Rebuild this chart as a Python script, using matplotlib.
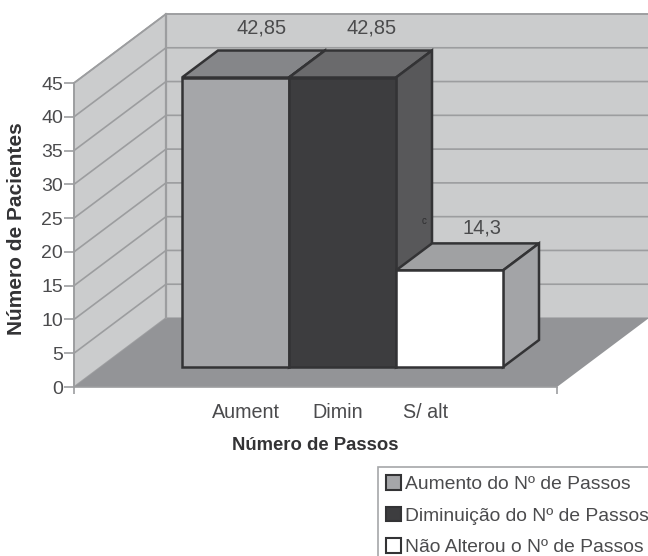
import matplotlib
matplotlib.use("Agg")
import matplotlib.pyplot as plt
from matplotlib.patches import Patch
from matplotlib.transforms import Affine2D

plt.rcParams['font.family'] = ['Liberation Sans', 'DejaVu Sans']

# Data
series_labels = ["Aumento do Nº de Passos", "Diminuição do Nº de Passos", "Não Alterou o Nº de Passos"]
short_labels = ["Aument", "Dimin", "S/ alt"]
value_labels = ["42,85", "42,85", "14,3"]
values = [42.85, 42.85, 14.3]
y_ticks = [0, 5, 10, 15, 20, 25, 30, 35, 40, 45]

# Styling
W, H = 648, 556
front_colors = ["#a5a6a9", "#3d3d3f", "#ffffff"]
top_colors = ["#858689", "#6a6a6c", "#a0a1a3"]
side_colors = ["#8a8b8e", "#58585a", "#a3a4a7"]
wall_color = "#cbcccd"
floor_color = "#939497"
grid_color = "#9c9d9f"
text_color = "#4b4b4d"
title_color = "#333335"
edge_color = "#333335"

DEPTH = (92, 69)        # full depth of the chart box, in pixels
BAR_BASE = (27, 20)     # where the bars stand on the floor
BAR_DEPTH = (36, 27)    # depth of each bar
LABEL_OFFSETS = [(-63, 23), (-60, 23), (-57, 15)]  # value labels, from each bar's rear corner

fig = plt.figure(figsize=(W / 100, H / 100), dpi=100, facecolor="white")
ax = fig.add_axes([74 / W, (H - 387) / H, 483 / W, 304 / H])
xmin, xmax = -1.257, 3.257
ax.set_xlim(xmin, xmax)
ax.set_ylim(0, 45)
ax.patch.set_visible(False)

fig.canvas.draw()
to_data = ax.transData.inverted()
dx, dy = DEPTH


def px(x, y):
    return ax.transData.transform((x, y))


def fill_px(points, **kw):
    ax.fill(*zip(*to_data.transform(points)), clip_on=False, **kw)


# Walls and floor
p0, p1, p45 = px(xmin, 0), px(xmax, 0), px(xmin, 45)
p1_top = px(xmax, 45)
fill_px([p0 + (dx, dy), p1 + (dx, dy), p1_top + (dx, dy), p45 + (dx, dy)], fc=wall_color, ec="#a8a9ab", lw=1.2, zorder=1)
fill_px([p0, p45, p45 + (dx, dy), p0 + (dx, dy)], fc=wall_color, ec="#a0a1a3", lw=1.2, zorder=1)
fill_px([p0, p1, p1 + (dx, dy), p0 + (dx, dy)], fc=floor_color, ec="none", zorder=2)

# Gridlines on both walls
for t in y_ticks[1:]:
    a = px(xmin, t)
    c = px(xmax, t) + (dx, dy)
    ax.plot(*zip(*to_data.transform([a, a + (dx, dy), c])), color=grid_color, lw=1.2, clip_on=False, zorder=2,
            solid_joinstyle="miter")
ax.plot(*zip(*to_data.transform([p0 + (dx, dy), p45 + (dx, dy)])), color=grid_color, lw=1.6, clip_on=False, zorder=2)

# Bars, drawn left to right so each one overlaps its neighbour
bx, by = BAR_BASE
ddx, ddy = BAR_DEPTH
bar_shift = ax.transData + Affine2D().translate(bx, by)
for i, (v, fc, tc, sc) in enumerate(zip(values, front_colors, top_colors, side_colors)):
    z = 3 + i
    ax.bar(i, v, width=1.0, color=fc, edgecolor=edge_color, linewidth=1.8, transform=bar_shift,
           clip_on=False, zorder=z + 0.2)
    br = px(i + 0.5, 0) + (bx, by)
    tl = px(i - 0.5, v) + (bx, by)
    tr = px(i + 0.5, v) + (bx, by)
    fill_px([tl, tr, tr + (ddx, ddy), tl + (ddx, ddy)], fc=tc, ec=edge_color, lw=1.8, zorder=z, joinstyle="miter")
    fill_px([br, br + (ddx, ddy), tr + (ddx, ddy), tr], fc=sc, ec=edge_color, lw=1.8, zorder=z, joinstyle="miter")

    # Value label floating above the bar
    lx, ly = tr + (ddx, ddy) + LABEL_OFFSETS[i]
    fig.text(lx / W, ly / H, value_labels[i], ha="center", va="center", fontsize=14.4, color=text_color, zorder=10)

fig.text(424 / W, (H - 221) / H, "c", fontsize=7, color="#2e2e30", ha="center", va="center", zorder=10)

# Axes
for name, s in ax.spines.items():
    s.set_visible(name in ("left", "bottom"))
    s.set_color(grid_color)
    s.set_linewidth(1.2)
ax.spines["left"].set_zorder(6)
ax.spines["bottom"].set_zorder(2.5)
ax.set_yticks(y_ticks)
ax.set_xticks([xmin, xmax])
ax.set_xticklabels([])
ax.tick_params(axis="y", length=7, width=1.2, color=grid_color, labelcolor=text_color, labelsize=14, pad=1)
ax.tick_params(axis="x", length=5, width=1.2, color=grid_color)

# Series names written under the axis
for label, cx in zip(short_labels, [246, 338, 426]):
    fig.text(cx / W, (H - 412) / H, label, ha="center", va="center", fontsize=14.2, color=text_color)

fig.text(315 / W, (H - 445) / H, "Número de Passos", ha="center", va="center",
         fontsize=13.3, fontweight="bold", color=title_color)
fig.text(17 / W, (H - 229) / H, "Número de Pacientes", rotation=90, ha="center", va="center",
         fontsize=15, fontweight="bold", color=title_color)

# Legend, running off the lower right of the canvas
handles = [Patch(facecolor=c, edgecolor=edge_color, linewidth=1.5) for c in front_colors]
leg = fig.legend(handles, series_labels, loc="upper left", bbox_to_anchor=(378 / W, (H - 467) / H),
                 fontsize=13.9, frameon=True, fancybox=False, framealpha=1, edgecolor="#a6a7a9",
                 borderpad=0.42, borderaxespad=0, labelspacing=0.7, handlelength=0.78, handleheight=0.78,
                 handletextpad=0.2, labelcolor=text_color)
leg.get_frame().set_linewidth(1.2)
leg.set_zorder(20)

fig.savefig("out.png", dpi=100, facecolor="white")
